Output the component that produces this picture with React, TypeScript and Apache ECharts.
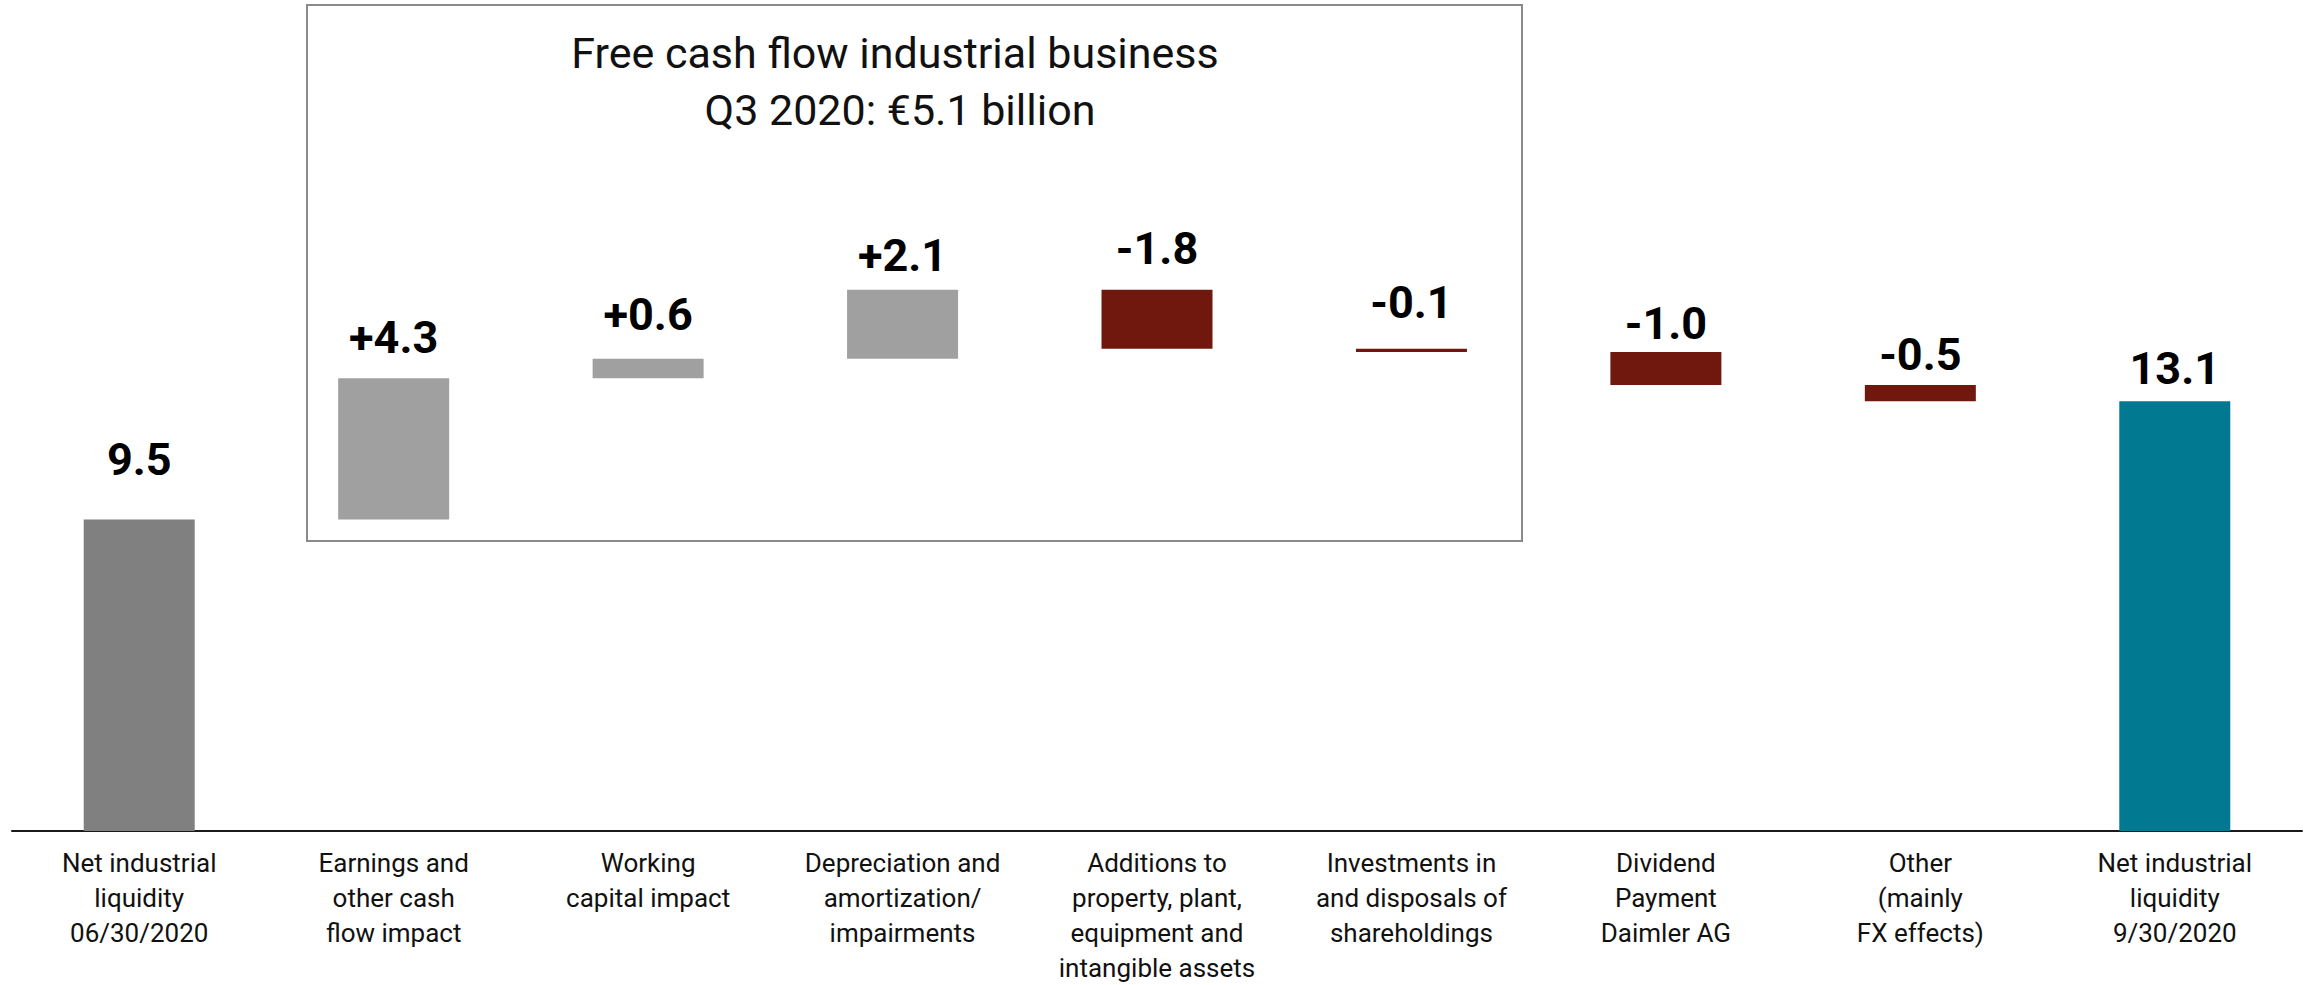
import React, { useEffect, useRef } from "react";
import * as echarts from "echarts";

const categories = [
  "Net industrial\nliquidity\n06/30/2020",
  "Earnings and\nother cash\nflow impact",
  "Working\ncapital impact",
  "Depreciation and\namortization/\nimpairments",
  "Additions to\nproperty, plant,\nequipment and\nintangible assets",
  "Investments in\nand disposals of\nshareholdings",
  "Dividend\nPayment\nDaimler AG",
  "Other\n(mainly\nFX effects)",
  "Net industrial\nliquidity\n9/30/2020",
];
const openingLiquidity = 9.5;
const changes = [4.3, 0.6, 2.1, -1.8, -0.1, -1.0, -0.5];
const closingLiquidity = 13.1;
const titleLines = ["Free cash flow industrial business", "Q3 2020: €5.1 billion"];

// style only: gap between value label and bar top, per bar
const labelDistances = [37, 18, 22, 12, 19, 24, 6, 8, 10];

const COLORS = {
  opening: "#808080",
  up: "#a0a0a0",
  down: "#70180e",
  closing: "#017a91",
};

export default function App() {
  const ref = useRef<HTMLDivElement>(null);

  useEffect(() => {
    if (!ref.current) return;
    const chart = echarts.init(ref.current, undefined, { renderer: "svg" });

    const base: number[] = [];
    const size: any[] = [];
    base.push(0);
    size.push({ value: openingLiquidity, itemStyle: { color: COLORS.opening }, lbl: openingLiquidity.toFixed(1) });
    let running = openingLiquidity;
    changes.forEach((c) => {
      const next = running + c;
      base.push(Math.min(running, next));
      size.push({
        value: Math.abs(c),
        itemStyle: { color: c >= 0 ? COLORS.up : COLORS.down },
        lbl: (c > 0 ? "+" : "") + c.toFixed(1),
      });
      running = next;
    });
    base.push(0);
    size.push({ value: closingLiquidity, itemStyle: { color: COLORS.closing }, lbl: closingLiquidity.toFixed(1) });

    const visible = size.map((d, i) => ({
      value: d.value,
      itemStyle: d.itemStyle,
      label: { distance: labelDistances[i], formatter: d.lbl },
    }));

    chart.setOption({
      animation: false,
      backgroundColor: "#ffffff",
      grid: { left: 12, right: 10, top: 175, bottom: 154, containLabel: false },
      xAxis: {
        type: "category",
        data: categories,
        axisLine: { show: true, lineStyle: { color: "#1a1a1a", width: 2 } },
        axisTick: { show: false },
        axisLabel: {
          interval: 0,
          margin: 14,
          color: "#111111",
          fontFamily: "Roboto",
          fontSize: 26,
          lineHeight: 35,
          align: "center",
        },
      },
      yAxis: {
        type: "value",
        min: 0,
        max: 20,
        show: false,
        splitLine: { show: false },
      },
      series: [
        {
          type: "bar",
          stack: "w",
          data: base,
          barWidth: 111,
          itemStyle: { color: "transparent" },
          silent: true,
          z: 1,
        },
        {
          type: "bar",
          stack: "w",
          data: visible,
          barWidth: 111,
          z: 2,
          label: {
            show: true,
            position: "top",
            color: "#000000",
            fontFamily: "Roboto",
            fontWeight: "bold",
            fontSize: 45,
            lineHeight: 45,
          },
        },
      ],
      graphic: [
        {
          type: "rect",
          shape: { x: 307, y: 5, width: 1215, height: 536 },
          style: { fill: "none", stroke: "#8a8a8a", lineWidth: 2 },
          z: 0,
        },
        {
          type: "text",
          x: 895,
          y: 53,
          style: {
            text: titleLines[0],
            fontFamily: "Roboto",
            fontSize: 43,
            fill: "#111111",
            align: "center",
            verticalAlign: "middle",
          },
        },
        {
          type: "text",
          x: 900,
          y: 110,
          style: {
            text: titleLines[1],
            fontFamily: "Roboto",
            fontSize: 43,
            fill: "#111111",
            align: "center",
            verticalAlign: "middle",
          },
        },
      ],
    });

    return () => chart.dispose();
  }, []);

  return (
    <div
      ref={ref}
      style={{ position: "fixed", left: 0, top: 0, width: 2312, height: 985, background: "#fff" }}
    />
  );
}
